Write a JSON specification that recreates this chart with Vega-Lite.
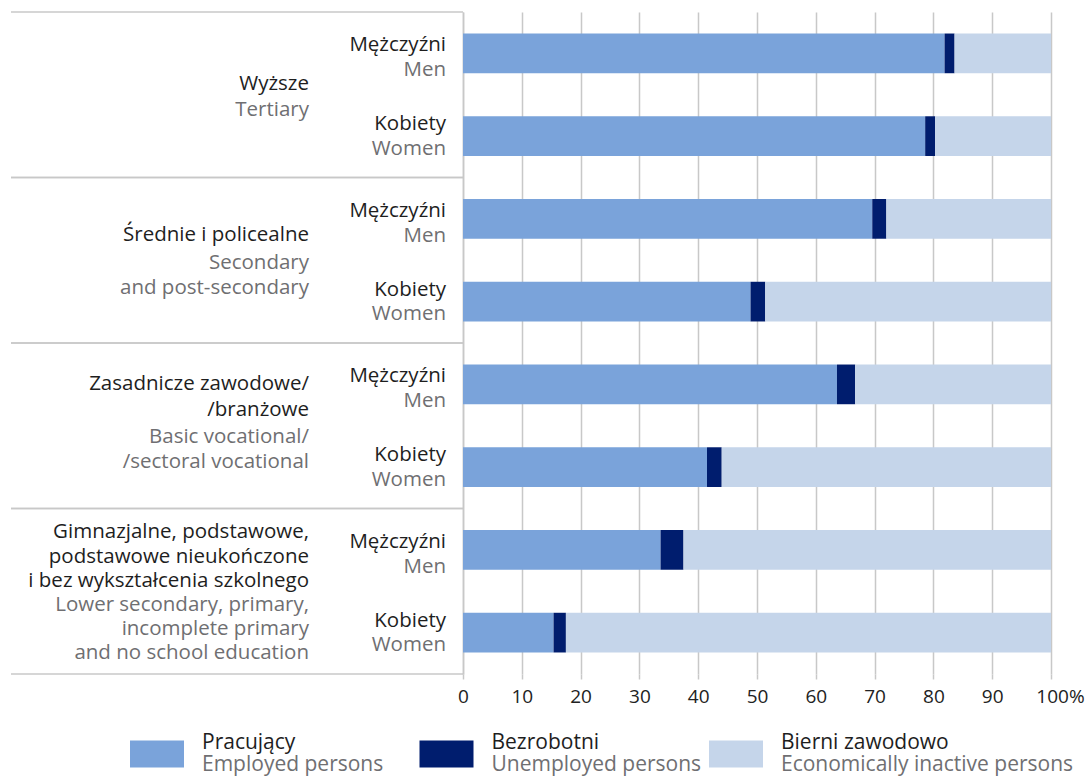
{
  "$schema": "https://vega.github.io/schema/vega-lite/v6.json",
  "padding": {"left": 10, "top": 11, "right": 0, "bottom": 0},
  "background": "white",
  "config": {"view": {"stroke": null}, "font": "Open Sans"},
  "datasets": {
    "bars": [
      {"row": "Wyższe – Mężczyźni", "status": "Pracujący", "o": 1, "pct": 81.9},
      {"row": "Wyższe – Mężczyźni", "status": "Bezrobotni", "o": 2, "pct": 1.7},
      {"row": "Wyższe – Mężczyźni", "status": "Bierni zawodowo", "o": 3, "pct": 16.4},
      {"row": "Wyższe – Kobiety", "status": "Pracujący", "o": 1, "pct": 78.6},
      {"row": "Wyższe – Kobiety", "status": "Bezrobotni", "o": 2, "pct": 1.7},
      {"row": "Wyższe – Kobiety", "status": "Bierni zawodowo", "o": 3, "pct": 19.7},
      {"row": "Średnie – Mężczyźni", "status": "Pracujący", "o": 1, "pct": 69.6},
      {"row": "Średnie – Mężczyźni", "status": "Bezrobotni", "o": 2, "pct": 2.4},
      {"row": "Średnie – Mężczyźni", "status": "Bierni zawodowo", "o": 3, "pct": 28.0},
      {"row": "Średnie – Kobiety", "status": "Pracujący", "o": 1, "pct": 48.9},
      {"row": "Średnie – Kobiety", "status": "Bezrobotni", "o": 2, "pct": 2.5},
      {"row": "Średnie – Kobiety", "status": "Bierni zawodowo", "o": 3, "pct": 48.6},
      {"row": "Zasadnicze – Mężczyźni", "status": "Pracujący", "o": 1, "pct": 63.6},
      {"row": "Zasadnicze – Mężczyźni", "status": "Bezrobotni", "o": 2, "pct": 3.1},
      {"row": "Zasadnicze – Mężczyźni", "status": "Bierni zawodowo", "o": 3, "pct": 33.3},
      {"row": "Zasadnicze – Kobiety", "status": "Pracujący", "o": 1, "pct": 41.5},
      {"row": "Zasadnicze – Kobiety", "status": "Bezrobotni", "o": 2, "pct": 2.5},
      {"row": "Zasadnicze – Kobiety", "status": "Bierni zawodowo", "o": 3, "pct": 56.0},
      {"row": "Gimnazjalne – Mężczyźni", "status": "Pracujący", "o": 1, "pct": 33.6},
      {"row": "Gimnazjalne – Mężczyźni", "status": "Bezrobotni", "o": 2, "pct": 3.9},
      {"row": "Gimnazjalne – Mężczyźni", "status": "Bierni zawodowo", "o": 3, "pct": 62.5},
      {"row": "Gimnazjalne – Kobiety", "status": "Pracujący", "o": 1, "pct": 15.4},
      {"row": "Gimnazjalne – Kobiety", "status": "Bezrobotni", "o": 2, "pct": 2.1},
      {"row": "Gimnazjalne – Kobiety", "status": "Bierni zawodowo", "o": 3, "pct": 82.5}
    ],
    "sex": [
      {"row": "Wyższe – Mężczyźni", "pl": "Mężczyźni", "en": "Men"},
      {"row": "Wyższe – Kobiety", "pl": "Kobiety", "en": "Women"},
      {"row": "Średnie – Mężczyźni", "pl": "Mężczyźni", "en": "Men"},
      {"row": "Średnie – Kobiety", "pl": "Kobiety", "en": "Women"},
      {"row": "Zasadnicze – Mężczyźni", "pl": "Mężczyźni", "en": "Men"},
      {"row": "Zasadnicze – Kobiety", "pl": "Kobiety", "en": "Women"},
      {"row": "Gimnazjalne – Mężczyźni", "pl": "Mężczyźni", "en": "Men"},
      {"row": "Gimnazjalne – Kobiety", "pl": "Kobiety", "en": "Women"}
    ],
    "groups": [
      {"first": "Wyższe – Mężczyźni", "last": "Wyższe – Kobiety", "pl": "Wyższe", "en": "Tertiary"},
      {"first": "Średnie – Mężczyźni", "last": "Średnie – Kobiety", "pl": "Średnie i policealne", "en": "Secondary\u00a0|and post-secondary"},
      {"first": "Zasadnicze – Mężczyźni", "last": "Zasadnicze – Kobiety", "pl": "Zasadnicze zawodowe/|/branżowe", "en": "Basic vocational/|/sectoral vocational"},
      {"first": "Gimnazjalne – Mężczyźni", "last": "Gimnazjalne – Kobiety", "pl": "Gimnazjalne, podstawowe,\u00a0|podstawowe nieukończone|i bez wykształcenia szkolnego", "en": "Lower secondary, primary,|incomplete primary\u00a0|and no school education"}
    ],
    "legend": [
      {"status": "Pracujący", "pl": "Pracujący", "en": "Employed persons"},
      {"status": "Bezrobotni", "pl": "Bezrobotni", "en": "Unemployed persons"},
      {"status": "Bierni zawodowo", "pl": "Bierni zawodowo", "en": "Economically inactive persons"}
    ]
  },
  "spacing": 23,
  "vconcat": [
    {
      "spacing": 0,
      "bounds": "flush",
      "hconcat": [
        {
          "width": 452,
          "height": 662,
          "data": {"name": "groups"},
          "layer": [
            {
              "mark": {"type": "rule", "color": "#c8c8c8", "strokeWidth": 1.5},
              "encoding": {
                "y": {"field": "first", "type": "nominal", "bandPosition": 0,
                      "scale": {"domain": ["Wyższe – Mężczyźni", "Wyższe – Kobiety", "Średnie – Mężczyźni", "Średnie – Kobiety", "Zasadnicze – Mężczyźni", "Zasadnicze – Kobiety", "Gimnazjalne – Mężczyźni", "Gimnazjalne – Kobiety"], "paddingInner": 0, "paddingOuter": 0},
                      "axis": null},
                "x": {"value": 0},
                "x2": {"value": "width"}
              }
            },
            {
              "mark": {"type": "rule", "color": "#c8c8c8", "strokeWidth": 1.5},
              "encoding": {
                "y": {"field": "last", "type": "nominal", "bandPosition": 1},
                "x": {"value": 0},
                "x2": {"value": "width"}
              }
            },
            {
              "transform": [{"filter": "datum.first == 'Wyższe – Mężczyźni'"}],
              "mark": {"type": "text", "align": "right", "baseline": "middle", "lineBreak": "|", "lineHeight": 25, "fontSize": 20.5, "color": "#1e1e1e", "dy": -11},
              "encoding": {"y": {"field": "first", "type": "nominal", "bandPosition": 1}, "x": {"value": 298}, "text": {"field": "pl"}}
            },
            {
              "transform": [{"filter": "datum.first == 'Wyższe – Mężczyźni'"}],
              "mark": {"type": "text", "align": "right", "baseline": "middle", "lineBreak": "|", "lineHeight": 25, "fontSize": 20.5, "color": "#6f6f72", "dy": 15},
              "encoding": {"y": {"field": "first", "type": "nominal", "bandPosition": 1}, "x": {"value": 298}, "text": {"field": "en"}}
            },
            {
              "transform": [{"filter": "datum.first == 'Średnie – Mężczyźni'"}],
              "mark": {"type": "text", "align": "right", "baseline": "middle", "lineBreak": "|", "lineHeight": 25, "fontSize": 20.5, "color": "#1e1e1e", "dy": -25},
              "encoding": {"y": {"field": "first", "type": "nominal", "bandPosition": 1}, "x": {"value": 298}, "text": {"field": "pl"}}
            },
            {
              "transform": [{"filter": "datum.first == 'Średnie – Mężczyźni'"}],
              "mark": {"type": "text", "align": "right", "baseline": "middle", "lineBreak": "|", "lineHeight": 25, "fontSize": 20.5, "color": "#6f6f72", "dy": 3},
              "encoding": {"y": {"field": "first", "type": "nominal", "bandPosition": 1}, "x": {"value": 298}, "text": {"field": "en"}}
            },
            {
              "transform": [{"filter": "datum.first == 'Zasadnicze – Mężczyźni'"}],
              "mark": {"type": "text", "align": "right", "baseline": "middle", "lineBreak": "|", "lineHeight": 26, "fontSize": 20.5, "color": "#1e1e1e", "dy": -42},
              "encoding": {"y": {"field": "first", "type": "nominal", "bandPosition": 1}, "x": {"value": 298}, "text": {"field": "pl"}}
            },
            {
              "transform": [{"filter": "datum.first == 'Zasadnicze – Mężczyźni'"}],
              "mark": {"type": "text", "align": "right", "baseline": "middle", "lineBreak": "|", "lineHeight": 25, "fontSize": 20.5, "color": "#6f6f72", "dy": 11},
              "encoding": {"y": {"field": "first", "type": "nominal", "bandPosition": 1}, "x": {"value": 298}, "text": {"field": "en"}}
            },
            {
              "transform": [{"filter": "datum.first == 'Gimnazjalne – Mężczyźni'"}],
              "mark": {"type": "text", "align": "right", "baseline": "middle", "lineBreak": "|", "lineHeight": 24.5, "fontSize": 20.5, "color": "#1e1e1e", "dy": -59},
              "encoding": {"y": {"field": "first", "type": "nominal", "bandPosition": 1}, "x": {"value": 298}, "text": {"field": "pl"}}
            },
            {
              "transform": [{"filter": "datum.first == 'Gimnazjalne – Mężczyźni'"}],
              "mark": {"type": "text", "align": "right", "baseline": "middle", "lineBreak": "|", "lineHeight": 24, "fontSize": 20.5, "color": "#6f6f72", "dy": 14},
              "encoding": {"y": {"field": "first", "type": "nominal", "bandPosition": 1}, "x": {"value": 298}, "text": {"field": "en"}}
            },
            {
              "data": {"name": "sex"},
              "transform": [{"filter": "datum.en == 'Men'"}],
              "mark": {"type": "text", "align": "right", "baseline": "middle", "fontSize": 20.5, "dy": -8, "color": "#1e1e1e"},
              "encoding": {"y": {"field": "row", "type": "nominal"}, "x": {"value": 435}, "text": {"field": "pl"}}
            },
            {
              "data": {"name": "sex"},
              "transform": [{"filter": "datum.en == 'Men'"}],
              "mark": {"type": "text", "align": "right", "baseline": "middle", "fontSize": 20.5, "dy": 17, "color": "#6f6f72"},
              "encoding": {"y": {"field": "row", "type": "nominal"}, "x": {"value": 435}, "text": {"field": "en"}}
            },
            {
              "data": {"name": "sex"},
              "transform": [{"filter": "datum.en == 'Women'"}],
              "mark": {"type": "text", "align": "right", "baseline": "middle", "fontSize": 20.5, "dy": -12, "color": "#1e1e1e"},
              "encoding": {"y": {"field": "row", "type": "nominal"}, "x": {"value": 435}, "text": {"field": "pl"}}
            },
            {
              "data": {"name": "sex"},
              "transform": [{"filter": "datum.en == 'Women'"}],
              "mark": {"type": "text", "align": "right", "baseline": "middle", "fontSize": 20.5, "dy": 12.5, "color": "#6f6f72"},
              "encoding": {"y": {"field": "row", "type": "nominal"}, "x": {"value": 435}, "text": {"field": "en"}}
            }
          ]
        },
        {
          "width": 588,
          "height": 662,
          "data": {"name": "bars"},
          "mark": {"type": "bar"},
          "encoding": {
            "y": {"field": "row", "type": "nominal",
                  "scale": {"domain": ["Wyższe – Mężczyźni", "Wyższe – Kobiety", "Średnie – Mężczyźni", "Średnie – Kobiety", "Zasadnicze – Mężczyźni", "Zasadnicze – Kobiety", "Gimnazjalne – Mężczyźni", "Gimnazjalne – Kobiety"], "paddingInner": 0.52, "paddingOuter": 0.26},
                  "axis": {"labels": false, "ticks": false, "title": null, "domain": true, "domainColor": "#c8c8c8", "domainWidth": 1.5, "grid": false}},
            "x": {"field": "pct", "type": "quantitative", "stack": "zero",
                  "scale": {"domain": [0, 100], "nice": false},
                  "axis": {"values": [0, 10, 20, 30, 40, 50, 60, 70, 80, 90, 100], "title": null,
                           "labelExpr": "datum.value == 100 ? '100%' : datum.label",
                           "labelFlush": false,
                           "labelOffset": {"condition": {"test": "datum.value == 100", "value": 9}, "value": 0},
                           "grid": true, "gridColor": "#c8c8c8", "gridWidth": 1.5, "domain": false,
                           "tickColor": "#c8c8c8", "tickWidth": 1.5, "tickSize": 5,
                           "labelFontSize": 19, "labelColor": "#222222", "labelPadding": 8}},
            "color": {"field": "status", "type": "nominal",
                      "scale": {"domain": ["Pracujący", "Bezrobotni", "Bierni zawodowo"], "range": ["#7aa3da", "#001d6e", "#c5d5ea"]},
                      "legend": null},
            "order": {"field": "o", "type": "quantitative"}
          }
        }
      ]
    },
    {
      "width": 1078,
      "height": 50,
      "data": {"name": "legend"},
      "layer": [
        {
          "mark": {"type": "point", "shape": "M-1,-0.5H1V0.5H-1Z", "filled": true, "size": 2916, "opacity": 1},
          "encoding": {
            "x": {"field": "status", "type": "nominal", "sort": null, "scale": {"type": "point", "range": [146, 725], "padding": 0}, "axis": null},
            "color": {"field": "status", "type": "nominal",
                      "scale": {"domain": ["Pracujący", "Bezrobotni", "Bierni zawodowo"], "range": ["#7aa3da", "#001d6e", "#c5d5ea"]},
                      "legend": null}
          }
        },
        {
          "mark": {"type": "text", "align": "left", "baseline": "middle", "dx": 45, "dy": -11.5, "fontSize": 21, "color": "#1e1e1e"},
          "encoding": {"x": {"field": "status", "type": "nominal", "sort": null}, "text": {"field": "pl"}}
        },
        {
          "mark": {"type": "text", "align": "left", "baseline": "middle", "dx": 45, "dy": 11, "fontSize": 21, "color": "#6f6f72"},
          "encoding": {"x": {"field": "status", "type": "nominal", "sort": null}, "text": {"field": "en"}}
        }
      ]
    }
  ]
}
